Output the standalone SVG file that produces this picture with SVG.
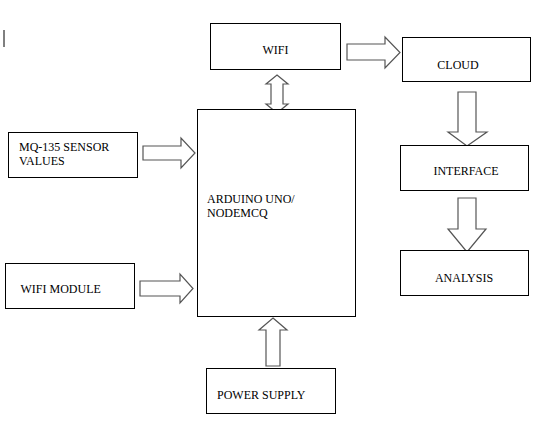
<svg xmlns="http://www.w3.org/2000/svg" width="549" height="429" viewBox="0 0 549 429">
<style>
.box{fill:#fff;stroke:#000;stroke-width:1}
.arr{fill:#fff;stroke:#555;stroke-width:1.2;stroke-linejoin:miter}
.t{font-family:"Liberation Serif","Times New Roman",serif;font-size:12px;fill:#000}
.c{text-anchor:middle}
</style>
<rect width="549" height="429" fill="#fff"/>
<line x1="4" y1="30" x2="4" y2="47" stroke="#000" stroke-width="1"/>
<g id="connectors">
<polygon class="arr" points="347,44 385,44 385,37 400,52.5 385,68 385,60 347,60"/>
<polygon class="arr" points="143,146 181,146 181,138 195,153 181,168 181,160 143,160"/>
<polygon class="arr" points="140,281 180,281 180,274 193,288.5 180,303 180,296 140,296"/>
<polygon class="arr" points="277,75 288,84 283,84 283,104 288,104 277,113 266,104 271,104 271,84 266,84"/>
<polygon class="arr" points="273,318 287,330 280,330 280,366 266,366 266,330 259,330"/>
<polygon class="arr" points="458,92 476,92 476,132 487,132 467,146 448,132 458,132"/>
<polygon class="arr" points="458,198 476,198 476,229 486,229 467,252 448,229 458,229"/>
</g>
<g id="wifi">
<rect class="box" x="210.5" y="23.5" width="130" height="46"/>
<text class="t c" x="275.5" y="54">WIFI</text>
</g>
<g id="cloud">
<rect class="box" x="402.5" y="37.5" width="128" height="44"/>
<text class="t c" x="458" y="69">CLOUD</text>
</g>
<g id="mq135">
<rect class="box" x="8.5" y="132.5" width="129" height="45"/>
<text class="t" x="19" y="150.5">MQ-135 SENSOR</text>
<text class="t" x="19" y="164.5">VALUES</text>
</g>
<g id="arduino">
<rect class="box" x="197.5" y="109.5" width="158" height="207"/>
<text class="t" x="207" y="203">ARDUINO UNO/</text>
<text class="t" x="207" y="217">NODEMCQ</text>
</g>
<g id="interface">
<rect class="box" x="400.5" y="145.5" width="128" height="45"/>
<text class="t c" x="466" y="175">INTERFACE</text>
</g>
<g id="wifimodule">
<rect class="box" x="5.5" y="263.5" width="129" height="45"/>
<text class="t" x="20.5" y="292.5">WIFI MODULE</text>
</g>
<g id="analysis">
<rect class="box" x="400.5" y="250.5" width="128" height="45"/>
<text class="t c" x="464" y="282">ANALYSIS</text>
</g>
<g id="power">
<rect class="box" x="206.5" y="368.5" width="129" height="45"/>
<text class="t" x="217" y="399">POWER SUPPLY</text>
</g>
</svg>
